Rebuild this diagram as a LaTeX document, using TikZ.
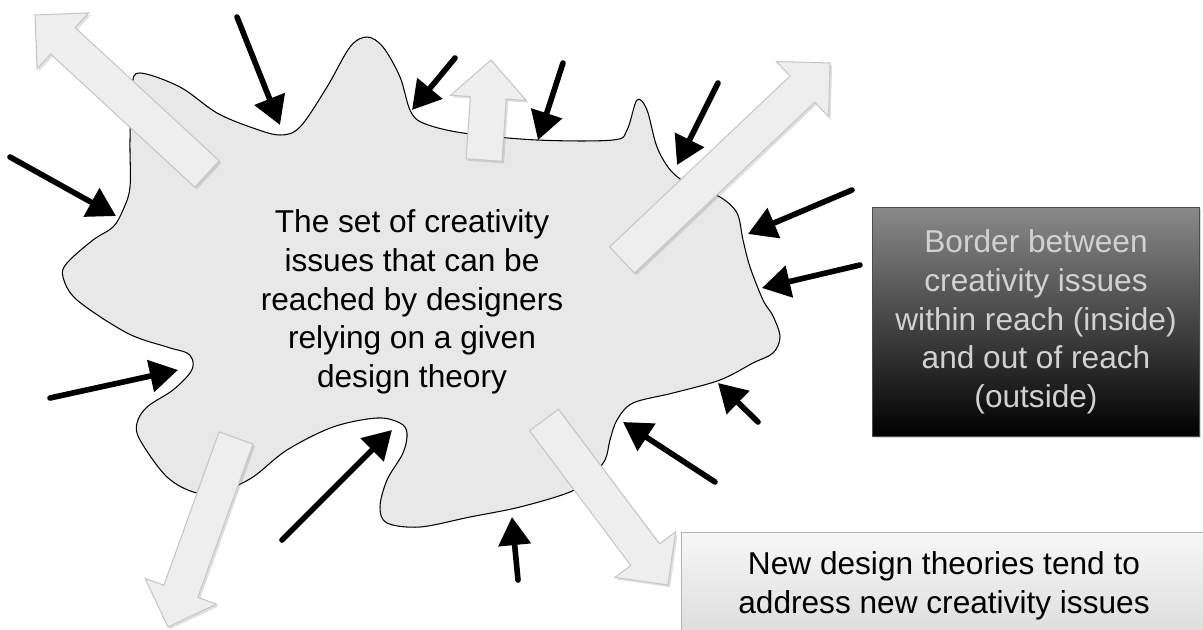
\documentclass[tikz,border=0pt]{standalone}
\usepackage{fontspec}
\setmainfont{Liberation Sans}
\usetikzlibrary{arrows.meta,calc,shadows}
\begin{document}
\begin{tikzpicture}[x=0.02cm, y=-0.02cm, >={Triangle[length=16pt,width=18pt]},
  inarrow/.style={->, line width=3.2pt, line cap=round},
  outarrow/.style={draw=gray!45, line width=0.6pt, fill=gray!13,
    drop shadow={opacity=0.25, shadow xshift=1.2pt, shadow yshift=-1.2pt}},
  txt/.style={align=center, font=\fontsize{18pt}{22pt}\selectfont}]
 \clip (0,0) rectangle (1203,629);
 \draw[fill=gray!18, line width=0.6pt] plot[smooth cycle, tension=0.55] coordinates {
   (140,73) (180,87) (217,113) (253,128) (280,135) (300,127) (327,87) (350,47)
   (367,37) (383,47) (400,77) (410,110) (423,123) (463,133) (537,140) (613,140)
   (627,130) (637,100) (647,110) (657,147) (672,172) (695,188) (720,197) (737,213)
   (743,240) (750,267) (763,300) (773,316) (780,337) (773,353) (753,363) (720,380)
   (673,393) (633,403) (617,420) (610,440) (605,460) (590,478) (570,492) (520,507)
   (470,517) (420,527) (387,523) (380,507) (387,480) (403,453) (407,433) (400,423)
   (377,418) (333,427) (287,450) (253,477) (225,490) (197,493) (167,477) (140,440)
   (137,423) (147,407) (173,390) (190,373) (193,362) (187,353) (167,347) (127,333)
   (77,300) (63,277) (67,263) (93,240) (113,227) (123,210) (130,187) (130,140) (132,87)};
 \node[txt] (set) at (412,302) {The set of creativity\\issues that can be\\reached by designers\\relying on a given\\design theory};
 % outgoing block arrows
 \foreach \tx/\ty/\hx/\hy [count=\i] in {207/174/35/15, 484/160/491/60, 622/260/830/63,
   236/438/168/627, 544/420/668/585}
 {
   \coordinate (ta\i) at (\tx,\ty);
   \coordinate (hd\i) at (\hx,\hy);
   \coordinate (nk\i) at ($(hd\i)!0.76cm!(ta\i)$);
   \filldraw[outarrow] ($(ta\i)!0.36cm!90:(hd\i)$) -- ($(nk\i)!0.36cm!-90:(ta\i)$)
     -- ($(nk\i)!0.76cm!-90:(ta\i)$) -- (hd\i) -- ($(nk\i)!0.76cm!90:(ta\i)$)
     -- ($(nk\i)!0.36cm!90:(ta\i)$) -- ($(ta\i)!0.36cm!-90:(hd\i)$) -- cycle;
 }
 % incoming arrows
 \foreach \tx/\ty/\hx/\hy [count=\i] in {237/17/280/125, 10/157/116/216, 455/58/412/110,
   563/63/538/140, 718/83/677/165, 852/190/748/234, 860/265/762/288, 758/422/718/383,
   715/482/623/422, 518/580/512/517, 282/540/392/430, 50/398/178/370}
 {
   \coordinate (s\i) at (\tx,\ty);
   \coordinate (e\i) at (\hx,\hy);
   \draw[inarrow] (s\i) -- (e\i);
 }
 \node[txt, text=white!82!black, draw=black!70, top color=black!46, bottom color=black,
   minimum width=6.54cm, minimum height=4.58cm,
   drop shadow={opacity=0.3, shadow xshift=1pt, shadow yshift=-1pt}] (border) at (1036,322)
   {Border between\\creativity issues\\within reach (inside)\\and out of reach\\(outside)};
 \node[txt, draw=gray!60, top color=gray!6, bottom color=gray!28,
   minimum width=10.5cm, minimum height=2.16cm,
   drop shadow={opacity=0.25, shadow xshift=1pt, shadow yshift=-1pt}] (new) at (944,586)
   {New design theories tend to\\address new creativity issues};
\end{tikzpicture}
\end{document}
